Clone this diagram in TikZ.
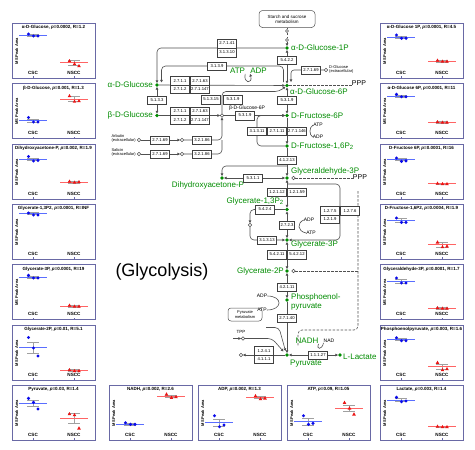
\documentclass[tikz,border=0pt]{standalone}
\usepackage{fontspec}
\setmainfont{Liberation Sans}
\usetikzlibrary{arrows.meta,calc}
\definecolor{kgreen}{RGB}{0,140,0}
\definecolor{pframe}{RGB}{105,105,165}
\definecolor{cblue}{RGB}{10,10,235}
\definecolor{cblueL}{RGB}{90,110,255}
\definecolor{nred}{RGB}{235,20,20}
\definecolor{nredL}{RGB}{255,100,100}
\definecolor{errg}{RGB}{160,160,160}
\definecolor{lnc}{RGB}{80,80,80}
\tikzset{
 ln/.style={draw=lnc,line width=0.6pt},
 dsh/.style={draw=lnc,line width=0.6pt,dash pattern=on 2.5pt off 1.5pt},
 arr/.style={-{Triangle[length=2.6pt,width=2.6pt]}},
 darr/.style={{Triangle[length=2.6pt,width=2.6pt]}-{Triangle[length=2.6pt,width=2.6pt]}},
 met/.style={circle,fill=kgreen,inner sep=0pt,minimum size=3.6pt},
 oc/.style={circle,draw=lnc,fill=white,line width=0.5pt,inner sep=0pt,minimum size=3.4pt},
 mlab/.style={text=kgreen,font=\fontsize{8}{8.6}\selectfont,inner sep=0pt},
 ec/.style={draw=black!75,fill=white,line width=0.45pt,font=\fontsize{4.2}{4.2}\selectfont,inner sep=0pt,minimum width=19pt,minimum height=8.5pt},
 sm/.style={font=\fontsize{5}{5}\selectfont,inner sep=0pt},
 tinyt/.style={font=\fontsize{4}{4.5}\selectfont,inner sep=0pt},
 pfr/.style={draw=pframe,line width=0.9pt},
 ptitle/.style={font=\bfseries\fontsize{4.5}{4.5}\selectfont,inner sep=0pt},
 pylab/.style={font=\bfseries\fontsize{4}{4}\selectfont,inner sep=0pt,rotate=90},
 pxlab/.style={font=\bfseries\fontsize{4.6}{4.6}\selectfont,inner sep=0pt}
}
\newcommand{\pframe}[4]{%
 \draw[pfr] (#2,#3) rectangle ({#2+83},{#3+55});
 \node[ptitle] (#1t) at ({#2+41.5},{#3+4.5}) {#4};
 \node[pylab] (#1y) at ({#2+4.8},{#3+28}) {MS Peak Area};
 \node[pxlab] (#1c) at ({#2+21},{#3+49.5}) {CSC};
 \node[pxlab] (#1n) at ({#2+62},{#3+49.5}) {NSCC};
 \draw[pframe,line width=0.4pt] ({#2+21},{#3+55}) -- ({#2+21},{#3+53.3}) ({#2+62},{#3+55}) -- ({#2+62},{#3+53.3});
}
\newcommand{\cgrp}[7]{%
 \draw[errg,line width=0.5pt] ({#1+15},{#2+#3-#7}) -- ({#1+27},{#2+#3-#7}) ({#1+15},{#2+#3+#7}) -- ({#1+27},{#2+#3+#7}) ({#1+21},{#2+#3-#7}) -- ({#1+21},{#2+#3+#7});
 \draw[cblueL,line width=0.8pt] ({#1+7},{#2+#3}) -- ({#1+35},{#2+#3});
 \fill[cblue] ({#1+16.5},{#2+#4}) circle (1.7pt) ({#1+21.5},{#2+#5}) circle (1.7pt) ({#1+26},{#2+#6}) circle (1.7pt);
}
\newcommand{\ngrp}[7]{%
 \draw[errg,line width=0.5pt] ({#1+56},{#2+#3-#7}) -- ({#1+68},{#2+#3-#7}) ({#1+56},{#2+#3+#7}) -- ({#1+68},{#2+#3+#7}) ({#1+62},{#2+#3-#7}) -- ({#1+62},{#2+#3+#7});
 \draw[nredL,line width=0.8pt] ({#1+48},{#2+#3}) -- ({#1+76},{#2+#3});
 \fill[nred] ({#1+57.5},{#2+#4-2}) -- ++(1.8,3.2) -- ++(-3.6,0) -- cycle
             ({#1+62.5},{#2+#5-2}) -- ++(1.8,3.2) -- ++(-3.6,0) -- cycle
             ({#1+67},{#2+#6-2}) -- ++(1.8,3.2) -- ++(-3.6,0) -- cycle;
}
\begin{document}
\begin{tikzpicture}[x=1pt,y=-1pt]
\useasboundingbox (0,0) rectangle (475,450);
\fill[white] (0,0) rectangle (475,450);

% ---------- left column panels ----------
\pframe{L1}{12}{23}{α-D-Glucose, \textit{p}=0.0002, R=1.2}
\cgrp{12}{23}{12}{11}{13}{13}{1.2}\ngrp{12}{23}{39.5}{38}{41}{43}{2.5}
\pframe{L2}{12}{83.5}{β-D-Glucose, \textit{p}=0.001, R=1.3}
\cgrp{12}{83.5}{37}{34}{38.5}{38.5}{1.5}\ngrp{12}{83.5}{15.5}{12.5}{18}{17.5}{2.5}
\pframe{L3}{12}{144}{Dihydroxyacetone-P, \textit{p}=0.002, R=1.9}
\cgrp{12}{144}{15.5}{12.5}{17}{16.5}{1.2}\ngrp{12}{144}{38}{37.5}{38.5}{38}{1}
\pframe{L4}{12}{204}{Glycerate-1,3P2, \textit{p}=0.0001, R=INF}
\cgrp{12}{204}{9.7}{9}{11}{11}{1}
\pframe{L5}{12}{264.5}{Glycerate-3P, \textit{p}=0.0001, R=19}
\cgrp{12}{264.5}{12.5}{10.8}{13.5}{13.5}{1}\ngrp{12}{264.5}{41.5}{41}{42}{42}{1}
\pframe{L6}{12}{325}{Glycerate-2P, \textit{p}=0.01, R=5.1}
\cgrp{12}{325}{22.5}{12.5}{23}{31}{5.5}\ngrp{12}{325}{45.5}{45}{46}{46}{0.8}
\pframe{L7}{12}{385}{Pyruvate, \textit{p}=0.03, R=1.4}
\cgrp{12}{385}{18.3}{13.3}{17.3}{24}{3.3}\ngrp{12}{385}{33.3}{29}{30}{43.3}{5}

% ---------- right column panels ----------
\pframe{R1}{380}{23}{α-D-Glucose 1P, \textit{p}=0.0001, R=4.5}
\cgrp{380}{23}{14.3}{12}{15.3}{15.3}{1}\ngrp{380}{23}{38}{37.5}{38.5}{38.5}{1}
\pframe{R2}{380}{83.5}{α-D-Glucose 6P, \textit{p}=0.0001, R=11}
\cgrp{380}{83.5}{12.5}{10.8}{13.2}{13.2}{1}\ngrp{380}{83.5}{38.8}{38.5}{39}{39}{0.8}
\pframe{R3}{380}{144}{D-Fructose 6P, \textit{p}=0.0001, R=16}
\cgrp{380}{144}{15.7}{14}{17.3}{16.8}{1}\ngrp{380}{144}{39.7}{39.5}{40}{40}{0.8}
\pframe{R4}{380}{204}{D-Fructose-1,6P2, \textit{p}=0.0004, R=1.9}
\cgrp{380}{204}{16.7}{14}{18.3}{18.3}{2}\ngrp{380}{204}{40.7}{38.3}{43}{42.3}{2.5}
\pframe{R5}{380}{264.5}{Glyceraldehyde-3P, \textit{p}=0.0001, R=1.7}
\cgrp{380}{264.5}{16.8}{13.5}{18.5}{18.5}{2}\ngrp{380}{264.5}{43.8}{43.5}{44}{44}{0.8}
\pframe{R6}{380}{325}{Phosphoenolpyruvate, \textit{p}=0.003, R=1.6}
\cgrp{380}{325}{14.3}{12.7}{15.7}{15.7}{1.2}\ngrp{380}{325}{41.7}{37.7}{45}{44}{2.5}
\pframe{R7}{380}{385}{Lactate, \textit{p}=0.003, R=1.4}
\cgrp{380}{385}{15}{12.3}{16.7}{16}{1.5}\ngrp{380}{385}{41.7}{41.5}{42}{42}{0.8}

% ---------- bottom row panels ----------
\pframe{B1}{109}{385}{NADH, \textit{p}=0.002, R=2.6}
\cgrp{109}{385}{39}{37.7}{39.3}{39.3}{0.8}\ngrp{109}{385}{11}{9.3}{12.7}{12}{1.2}
\pframe{B2}{198}{385}{ADP, \textit{p}=0.002, R=1.3}
\cgrp{198}{385}{37.7}{30.7}{41.7}{40}{3.8}\ngrp{198}{385}{12.7}{11}{14}{13.3}{1}
\pframe{B3}{287}{385}{ATP, \textit{p}=0.09, R=1.05}
\cgrp{287}{385}{36.7}{30.7}{39.3}{38.3}{3.3}\ngrp{287}{385}{23.3}{17.7}{23.3}{29.3}{3.3}

% ---------- title ----------
\node[font=\fontsize{18}{18}\selectfont,inner sep=0pt] (gly) at (162,272) {(Glycolysis)};

% ---------- metabolites ----------
\node[met] (g1p) at (287,48) {};
\node[met] (aglc) at (157,85) {};
\node[met] (g6p) at (287,85.5) {};
\node[met] (bglc) at (157,115.5) {};
\node[oc]  (bg6p) at (222,115.5) {};
\node[met] (f6p) at (287,115.5) {};
\node[met] (fbp) at (287,146) {};
\node[met] (ga3p) at (287,178) {};
\node[met] (dhap) at (222,178) {};
\node[met] (g13p) at (287,209.5) {};
\node[oc]  (g23) at (250,225) {};
\node[met] (g3p) at (287,240) {};
\node[met] (g2p) at (287,271) {};
\node[met] (pep) at (287,300) {};
\node[met] (pyr) at (287,355) {};
\node[met] (lac) at (340,355) {};

\node[mlab,anchor=west] (g1pL) at (291,48) {α-D-Glucose-1P};
\node[mlab,anchor=east] (aglcL) at (153,85) {α-D-Glucose};
\node[mlab,anchor=west] (g6pL) at (290,91.5) {α-D-Glucose-6P};
\node[mlab,anchor=east] (bglcL) at (153,115.5) {β-D-Glucose};
\node[sm] (bg6pL) at (247,108) {β-D-Glucose-6P};
\node[mlab,anchor=west] (f6pL) at (291,115.5) {D-Fructose-6P};
\node[mlab,anchor=west] (fbpL) at (291,146) {D-Fructose-1,6P\textsubscript{2}};
\node[mlab,anchor=west] (ga3pL) at (291,171) {Glyceraldehyde-3P};
\node[mlab] (dhapL) at (208,185.5) {Dihydroxyacetone-P};
\node[mlab,anchor=east] (g13pL) at (284,201) {Glycerate-1,3P\textsubscript{2}};
\node[mlab,anchor=west] (g3pL) at (291,244) {Glycerate-3P};
\node[mlab,anchor=east] (g2pL) at (284,271) {Glycerate-2P};
\node[mlab,anchor=west,align=left] (pepL) at (291,302) {Phosphoenol-\\pyruvate};
\node[mlab,anchor=west] (pyrL) at (290,363.5) {Pyruvate};
\node[mlab,anchor=west] (lacL) at (343,357) {L-Lactate};

% other labels
\node[draw=lnc,line width=0.5pt,rounded corners=3.5pt,font=\fontsize{4.5}{5}\selectfont,inner sep=0pt,align=center,minimum width=56pt,minimum height=17pt] (starch) at (287,19) {Starch and sucrose\\metabolism};
\node[oc,minimum size=3pt] (sc1) at (287,31) {};
\node[oc,minimum size=3pt] (sc2) at (287,40) {};
\node[mlab] (atp1) at (237.5,71) {ATP};
\node[mlab] (adp1) at (258.5,71) {ADP};
\node[sm] (ppp1) at (359,83) {\fontsize{7}{7}\selectfont PPP};
\node[sm] (ppp2) at (360,177) {\fontsize{7}{7}\selectfont PPP};
\node[oc] (dglc) at (326,70) {};
\node[tinyt,anchor=west,align=left] (dglcT) at (329,69.5) {D-Glucose\\(extracellular)};
\node[tinyt,anchor=east,align=left] (arbT) at (136,138.5) {Arbutin\\(extracellular)};
\node[tinyt,anchor=east,align=left] (salT) at (136,152.5) {Salicin\\(extracellular)};
\node[oc] (arb0) at (139,140) {};
\node[oc] (arb6) at (182,140) {};
\node[oc] (sal0) at (139,154) {};
\node[oc] (sal6) at (182,154) {};
\node[sm] (atp2) at (318,125) {ATP};
\node[sm] (adp2) at (318,137) {ADP};
\node[oc] (gao) at (293.5,178) {};
\node[sm] (adp3) at (309,220) {ADP};
\node[sm] (atp3) at (311,233) {ATP};
\node[oc] (g2o) at (293.5,271) {};
\node[sm] (adp4) at (262,296) {ADP};
\node[sm] (atp4) at (262,310) {ATP};
\node[draw=lnc,line width=0.5pt,rounded corners=3pt,tinyt,align=center,minimum width=34pt,minimum height=13pt] (pyrmet) at (245,314.5) {Pyruvate\\metabolism};
\node[sm,font=\fontsize{4.5}{4.5}\selectfont] (tpp) at (241,332) {TPP};
\node[oc] (tppc) at (243,338.5) {};
\node[oc] (pyo) at (241,355) {};
\node[mlab] (nadh) at (307,341) {NADH};
\node[sm] (nad) at (329,341) {NAD};

% coordinates
\coordinate (tpp0) at (233,338.5);
\coordinate (g6pa) at (283.5,82);
\coordinate (g6pc) at (291,82);
\coordinate (aglc2) at (161.5,82.5);
\coordinate (br1) at (287,166);
\coordinate (lp1) at (287,184);
\coordinate (pyrin1) at (283.5,351.5);
\coordinate (pyrin2) at (285.5,351);
\coordinate (dv1) at (358,191);
\coordinate (dv2) at (358,271);
\coordinate (dv5) at (298,346);
\coordinate (p0) at (266,327.5);

% ---------- connectors ----------
\draw[dsh] (starch) -- (sc1) -- (sc2);
\draw[ln,arr] (sc2) -- (g1p);
\draw[ln,arr,rounded corners=4pt] (g1p) -| (aglc);
\draw[ln,arr,rounded corners=4pt] (g6pa) -- (283.5,66) -- (161.5,66) -- (aglc2);
\draw[ln,darr] (g1p) -- (g6p);
\draw[ln,arr,rounded corners=3pt] (dglc) -- (291,70) -- (g6pc);
\draw[ln,arr] (aglc) -- (g6p);
\draw[ln,arr] (atp1.south east) .. controls (243,84) and (253,84) .. (adp1.south west);
\draw[dsh] (g6p) -- (ppp1.west |- g6p);
\draw[ln,darr] (aglc) -- (bglc);
\draw[ln,arr,rounded corners=4pt] (bg6p) -- (222,91.5) -- (279,91.5) -- (g6p);
\draw[ln,darr] (g6p) -- (f6p);
\draw[ln,arr] (bglc) -- (bg6p);
\draw[ln,arr] (bg6p) -- (f6p);
\draw[ln,arr] (arb0) -- (arb6);
\draw[ln,arr] (sal0) -- (sal6);
\draw[ln,arr,rounded corners=4pt] (arb6) -| (bg6p);
\draw[ln,rounded corners=4pt] (sal6) -| (222,140);
\draw[ln,arr,rounded corners=4pt] (fbp) -- (257,146) -- (257,115.5) -- (f6p);
\draw[ln,arr] (f6p) -- (fbp);
\draw[ln] (atp2.west) .. controls (309,127) and (309,135) .. (adp2.west);
\draw[ln,arr] (fbp) -- (ga3p);
\draw[ln,arr,rounded corners=4pt] (br1) -| (dhap);
\draw[ln,darr] (dhap) -- (ga3p);
\draw[dsh] (gao) -- (ppp2.west |- gao);
\draw[ln,darr] (ga3p) -- (g13p);
\draw[ln,arr,rounded corners=4pt] (lp1) -- (340,184) -- (340,240) -- (g3p);
\draw[ln,darr] (g13p) -- (g3p);
\draw[ln] (adp3.west) .. controls (297,223) and (297,231) .. (atp3.west);
\draw[ln,arr,rounded corners=4pt] (g13p) -| (g23);
\draw[ln,arr,rounded corners=4pt] (g23) |- (g3p);
\draw[ln,darr] (g3p) -- (g2p);
\draw[dsh] (g2o) -- (dv2);
\draw[dsh,rounded corners=4pt] (dv1) -- (358,330) -- (298,330) -- (dv5);
\draw[ln,darr] (g2p) -- (pep);
\draw[ln] (adp4.east) .. controls (283,296) and (283,310) .. (atp4.east);
\draw[ln,arr] (pep) -- (pyr);
\draw[ln,arr] (tpp0) -- (tppc);
\draw[ln,arr,rounded corners=4pt] (tppc) -- (272,338.5) -- (pyrin1);
\draw[ln,arr,rounded corners=4pt] (p0) -- (279,327.5) -- (pyrin2);
\draw[ln,arr] (pyr) -- (pyo);
\draw[ln,darr] (pyr) -- (lac);
\draw[ln] (nadh.south east) .. controls (316,350) and (322,350) .. (nad.south west);

% ---------- enzyme boxes ----------
\node[ec] (e01) at (227,43.5) {2.7.1.41};
\node[ec] (e02) at (227,52.5) {3.1.3.10};
\node[ec] (e03) at (287,60) {5.4.2.2};
\node[ec] (e04) at (217,66) {3.1.3.9};
\node[ec] (e05) at (311,70) {2.7.1.69};
\node[ec] (e06) at (180,80.75) {2.7.1.1};
\node[ec] (e07) at (200,80.75) {2.7.1.63};
\node[ec] (e08) at (180,89.25) {2.7.1.2};
\node[ec] (e09) at (200,89.25) {2.7.1.147};
\node[ec] (e10) at (157,100) {5.1.3.3};
\node[ec] (e11) at (211,99.5) {5.1.3.15};
\node[ec] (e12) at (233,99.5) {5.3.1.9};
\node[ec] (e13) at (287,100) {5.3.1.9};
\node[ec] (e14) at (180,111.25) {2.7.1.1};
\node[ec] (e15) at (200,111.25) {2.7.1.63};
\node[ec] (e16) at (180,119.75) {2.7.1.2};
\node[ec] (e17) at (200,119.75) {2.7.1.147};
\node[ec] (e18) at (245,115.5) {5.3.1.9};
\node[ec] (e19) at (257,131) {3.1.3.11};
\node[ec] (e20) at (277,131) {2.7.1.11};
\node[ec] (e21) at (297,131) {2.7.1.146};
\node[ec] (e22) at (160,140) {2.7.1.69};
\node[ec] (e23) at (202,140) {3.2.1.86};
\node[ec] (e24) at (160,154) {2.7.1.69};
\node[ec] (e25) at (202,154) {3.2.1.86};
\node[ec] (e26) at (287,160) {4.1.2.13};
\node[ec] (e27) at (253,178) {5.3.1.1};
\node[ec] (e28) at (277,192) {1.2.1.12};
\node[ec] (e29) at (297,192) {1.2.1.59};
\node[ec] (e30) at (265,209.5) {5.4.2.4};
\node[ec] (e31) at (330,210.75) {1.2.7.5};
\node[ec] (e32) at (350,210.75) {1.2.7.6};
\node[ec] (e33) at (330,219.25) {1.2.1.9};
\node[ec,minimum width=15pt] (e34) at (287,225) {2.7.2.3};
\node[ec] (e35) at (267,240) {3.1.3.13};
\node[ec] (e36) at (277,254.5) {5.4.2.11};
\node[ec] (e37) at (297,254.5) {5.4.2.12};
\node[ec] (e38) at (287,287) {4.2.1.11};
\node[ec] (e39) at (287,318) {2.7.1.40};
\node[ec] (e40) at (264,350.75) {1.2.4.1};
\node[ec] (e41) at (264,359.25) {4.1.1.1};
\node[ec] (e42) at (318,355) {1.1.1.27};
\end{tikzpicture}
\end{document}
